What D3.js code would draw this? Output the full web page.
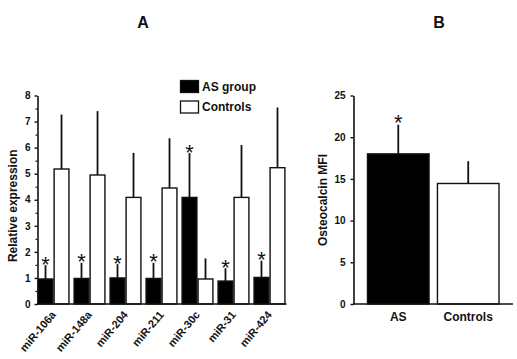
<!DOCTYPE html>
<html>
<head>
<meta charset="utf-8">
<script src="https://cdn.jsdelivr.net/npm/d3@7"></script>
<style>
  body { margin: 0; background: #fff; }
  text { font-family: "Liberation Sans", Arial, sans-serif; font-weight: bold; fill: #111; }
</style>
</head>
<body>
<div id="chart"></div>
<script>
// Panel A: relative miRNA expression
const categories = ['miR-106a', 'miR-148a', 'miR-204', 'miR-211', 'miR-30c', 'miR-31', 'miR-424'];
const asMean = [0.96, 0.98, 1.0, 0.98, 4.09, 0.88, 1.02];
const asSd = [0.53, 0.6, 0.53, 0.6, 1.7, 0.49, 0.64];
const ctrlMean = [5.18, 4.95, 4.09, 4.45, 0.96, 4.09, 5.23];
const ctrlSd = [2.09, 2.45, 1.71, 1.91, 0.79, 2.01, 2.31];
const asStar = [true, true, true, true, true, true, true];
const seriesNames = ['AS group', 'Controls'];
const yTicksA = [0, 1, 2, 3, 4, 5, 6, 7, 8];

// Panel B: osteocalcin MFI
const groupsB = ['AS', 'Controls'];
const meanB = [18.0, 14.45];
const sdB = [3.5, 2.67];
const starB = [true, false];
const yTicksB = [0, 5, 10, 15, 20, 25];

const W = 517, H = 359;
const svg = d3.select('#chart').append('svg')
  .attr('width', W)
  .attr('height', H);

const fills = ['#000', '#fff'];
const y0 = 304, yTop = 95.5;

// significance mark, centred at (x, yc)
function star(g, x, yc) {
  g.append('text')
    .attr('x', x)
    .attr('y', yc + 12.5)
    .attr('text-anchor', 'middle')
    .style('font-size', '22px')
    .style('font-weight', 'normal')
    .text('*');
}

// ---------- Panel A ----------
const xA = d3.scaleBand().domain(categories).range([37.5, 285.5]).paddingInner(0.11).paddingOuter(0);
const xSub = d3.scaleBand().domain(seriesNames).range([0, xA.bandwidth()]);
const yA = d3.scaleLinear().domain([0, 8]).range([y0, yTop]);

const gA = svg.append('g');

const rows = categories.map((c, i) => ({
  cat: c,
  vals: [
    { s: seriesNames[0], m: asMean[i], sd: asSd[i], star: asStar[i] },
    { s: seriesNames[1], m: ctrlMean[i], sd: ctrlSd[i], star: false }
  ]
}));

rows.forEach(r => {
  r.vals.forEach((v, j) => {
    const x = xA(r.cat) + xSub(v.s);
    const w = xSub.bandwidth();
    const cx = x + w / 2;
    gA.append('line')
      .attr('x1', cx).attr('x2', cx)
      .attr('y1', yA(v.m)).attr('y2', yA(v.m + v.sd))
      .attr('stroke', '#111').attr('stroke-width', 1.8);
    gA.append('rect')
      .attr('x', x + 0.6).attr('y', yA(v.m))
      .attr('width', w - 1.2).attr('height', y0 - yA(v.m))
      .attr('fill', fills[j]).attr('stroke', '#111').attr('stroke-width', 1.4);
    if (v.star) star(gA, cx, yA(v.m + v.sd) - 6);
  });
});

// minor ticks every 0.5
gA.append('g')
  .attr('transform', 'translate(37.5,0)')
  .call(d3.axisLeft(yA).tickValues(d3.range(0.5, 8, 1)).tickSize(2).tickFormat(''))
  .call(g => g.select('.domain').remove())
  .selectAll('line').attr('stroke', '#111').attr('stroke-width', 1.2);

gA.append('g')
  .attr('transform', 'translate(37.5,0)')
  .call(d3.axisLeft(yA).tickValues(yTicksA).tickSize(3).tickSizeOuter(0).tickPadding(4))
  .call(g => g.select('.domain').attr('stroke', '#111').attr('stroke-width', 1.6))
  .call(g => g.selectAll('.tick line').attr('stroke', '#111').attr('stroke-width', 1.4))
  .call(g => g.selectAll('.tick text').style('font-size', '10px').style('font-family', '"Liberation Sans", Arial, sans-serif').style('font-weight', 'bold').attr('fill', '#111'));

gA.append('line')
  .attr('x1', 37).attr('x2', 286.5).attr('y1', y0).attr('y2', y0)
  .attr('stroke', '#111').attr('stroke-width', 1.6);

gA.selectAll('.xlab')
  .data(categories)
  .enter()
  .append('text')
  .attr('class', 'xlab')
  .attr('text-anchor', 'end')
  .attr('transform', d => `translate(${xA(d) + xA.bandwidth() / 2 + 3},${y0 + 11}) rotate(-50)`)
  .style('font-size', '11px')
  .text(d => d);

gA.append('text')
  .attr('text-anchor', 'middle')
  .attr('transform', `translate(17,${(y0 + yTop) / 2 + 6}) rotate(-90)`)
  .style('font-size', '12px')
  .text('Relative expression');

// legend
const leg = gA.append('g').attr('transform', 'translate(180,80)');
seriesNames.forEach((s, i) => {
  leg.append('rect')
    .attr('x', 0.5).attr('y', i * 20.5 + 0.5)
    .attr('width', 18).attr('height', 12)
    .attr('fill', fills[i]).attr('stroke', '#111').attr('stroke-width', 1.3);
  leg.append('text')
    .attr('x', 22).attr('y', i * 20.5 + 10.5)
    .style('font-size', '12px')
    .text(s);
});

svg.append('text')
  .attr('x', 143).attr('y', 28)
  .attr('text-anchor', 'middle')
  .style('font-size', '16px')
  .text('A');

// ---------- Panel B ----------
const xB = d3.scaleBand().domain(groupsB).range([353.5, 513]).paddingInner(0.12).paddingOuter(0.2);
const yB = d3.scaleLinear().domain([0, 25]).range([y0, yTop]);
const gB = svg.append('g');

groupsB.forEach((grp, i) => {
  const x = xB(grp), w = xB.bandwidth(), cx = x + w / 2;
  gB.append('line')
    .attr('x1', cx).attr('x2', cx)
    .attr('y1', yB(meanB[i])).attr('y2', yB(meanB[i] + sdB[i]))
    .attr('stroke', '#111').attr('stroke-width', 1.8);
  gB.append('rect')
    .attr('x', x).attr('y', yB(meanB[i]))
    .attr('width', w).attr('height', y0 - yB(meanB[i]))
    .attr('fill', fills[i]).attr('stroke', '#111').attr('stroke-width', 1.4);
  if (starB[i]) star(gB, cx, yB(meanB[i] + sdB[i]) - 7);
});

gB.append('g')
  .attr('transform', 'translate(353.5,0)')
  .call(d3.axisLeft(yB).tickValues(yTicksB).tickSize(3).tickSizeOuter(0).tickPadding(5))
  .call(g => g.select('.domain').attr('stroke', '#111').attr('stroke-width', 1.6))
  .call(g => g.selectAll('.tick line').attr('stroke', '#111').attr('stroke-width', 1.4))
  .call(g => g.selectAll('.tick text').style('font-size', '10px').style('font-family', '"Liberation Sans", Arial, sans-serif').style('font-weight', 'bold').attr('fill', '#111'));

gB.append('line')
  .attr('x1', 353).attr('x2', 513).attr('y1', y0).attr('y2', y0)
  .attr('stroke', '#111').attr('stroke-width', 1.6);

gB.selectAll('.xlabB')
  .data(groupsB)
  .enter()
  .append('text')
  .attr('class', 'xlabB')
  .attr('text-anchor', 'middle')
  .attr('x', d => xB(d) + xB.bandwidth() / 2)
  .attr('y', 321)
  .style('font-size', '12px')
  .text(d => d);

gB.append('text')
  .attr('text-anchor', 'middle')
  .attr('transform', `translate(327,200) rotate(-90)`)
  .style('font-size', '12px')
  .text('Osteocalcin MFI');

svg.append('text')
  .attr('x', 439).attr('y', 28)
  .attr('text-anchor', 'middle')
  .style('font-size', '16px')
  .text('B');
</script>
</body>
</html>
